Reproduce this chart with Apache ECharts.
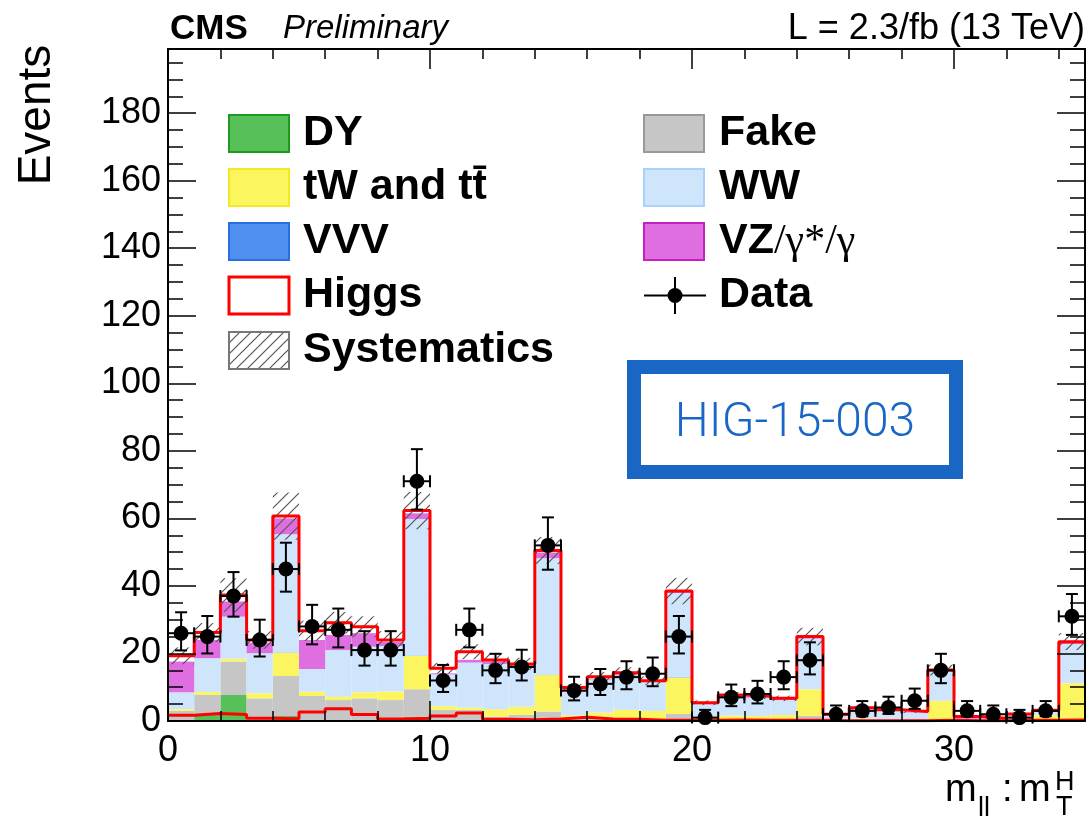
<!DOCTYPE html>
<html><head><meta charset="utf-8">
<script src="https://cdn.jsdelivr.net/npm/echarts@6/dist/echarts.min.js"></script>
<style>html,body{margin:0;padding:0;background:#fff}#c{width:1088px;height:817px}</style>
</head><body><div id="c"></div>
<script>
// ---- data (bins of width 1 from 0 to 35) ----
const binLow = [0,1,2,3,4,5,6,7,8,9,10,11,12,13,14,15,16,17,18,19,20,21,22,23,24,25,26,27,28,29,30,31,32,33,34];
const dy    = [0.3,1.8,7.7,0.3,1.5,0.2,0.2,0.3,0.8,1.3,0.1,0.1,0.1,0.1,0.3,0.1,0.2,0.1,0.1,0.5,0.1,0.0,0.0,0.1,0.3,0.0,0.0,0.0,0.0,0.1,0.0,0.0,0.0,0.1,0.1];
const fake  = [2.7,5.9,9.9,6.4,11.8,7.2,6.0,6.4,5.4,8.1,3.2,3.2,1.2,1.7,2.5,0.6,0.8,0.4,0.4,1.6,0.2,0.2,0.2,0.3,1.2,0.1,0.1,0.1,0.1,0.3,0.1,0.0,0.0,0.1,0.3];
const tw    = [0.5,0.9,0.8,1.5,6.9,1.3,1.0,1.8,2.5,9.9,1.1,0.7,2.2,2.4,10.8,1.0,1.5,2.8,2.5,10.8,0.9,1.4,1.3,1.4,7.9,0.3,0.6,0.3,0.2,5.6,0.2,0.1,0.3,1.5,10.8];
const vvv   = [0.0,0.0,0.0,0.0,0.1,0.0,0.0,0.0,0.0,0.1,0.0,0.0,0.0,0.0,0.1,0.0,0.0,0.0,0.0,0.1,0.0,0.0,0.0,0.0,0.0,0.0,0.0,0.0,0.0,0.0,0.0,0.0,0.0,0.0,0.0];
const ww    = [5.0,10.0,12.5,11.9,35.0,6.7,13.8,13.5,13.5,40.4,9.4,13.3,13.4,11.8,34.5,6.9,9.8,10.2,8.5,24.9,3.8,5.5,5.4,4.4,15.0,1.4,2.9,2.6,2.2,8.6,0.4,0.5,1.4,1.2,11.6];
const vz    = [9.1,5.4,4.5,3.1,4.7,8.6,4.5,4.0,1.2,1.7,0.3,0.8,0.7,0.5,1.7,0.2,0.2,0.3,0.2,0.4,0.2,0.3,0.3,0.3,0.4,0.1,0.2,0.2,0.2,0.3,0.5,0.1,0.2,0.1,0.4];
const higgs = [1.7,2.2,1.9,0.8,0.7,2.7,3.6,1.9,0.6,0.8,1.5,2.4,0.5,0.4,0.6,1.1,0.6,0.5,0.2,0.2,0.2,0.3,0.2,0.2,0.2,0.1,0.1,0.1,0.1,0.2,0.1,0.1,0.2,0.2,0.3];
const syst  = [2.5,2.8,5.0,2.6,7.0,3.0,3.2,3.1,2.6,5.5,1.6,2.2,1.9,1.8,4.0,1.1,1.4,1.6,1.3,3.9,0.7,0.9,0.9,0.8,2.6,0.4,0.5,0.4,0.4,1.6,0.3,0.2,0.3,0.4,2.5];
const dataVals = [26,25,37,24,45,28,27,21,21,71,12,27,15,16,52,9,11,13,14,25,1,7,8,13,18,2,3,4,6,15,3,2,1,3,31];
const errUp    = [6.2,6.1,7.1,6.0,7.8,6.4,6.3,5.6,5.6,9.5,4.6,6.3,4.9,5.1,8.3,4.1,4.4,4.7,4.8,6.1,2.3,3.8,3.9,4.7,5.3,2.6,2.9,3.2,3.6,4.9,2.9,2.6,2.3,2.9,6.6];
const errDown  = [5.1,5.0,6.1,4.9,6.7,5.3,5.2,4.6,4.6,8.4,3.4,5.2,3.8,4.0,7.2,2.9,3.3,3.6,3.7,5.0,0.8,2.6,2.8,3.6,4.2,1.3,1.6,1.9,2.4,3.8,1.6,1.3,0.8,1.6,5.5];

const FONT = '"Liberation Sans", Arial, Helvetica, sans-serif';
const colors = {DY:'#58c058', Fake:'#c6c6c6', tW:'#fbf660', VVV:'#4f8ff0', WW:'#cfe5fc', VZ:'#df6ee0'};
const borders = {DY:'#1f9a1f', Fake:'#999999', tW:'#f0ea20', VVV:'#2a6fe0', WW:'#a8d2fa', VZ:'#c420c4'};

// hatch pattern
const pc = document.createElement('canvas'); pc.width = 11; pc.height = 11;
(function(){const g = pc.getContext('2d'); g.strokeStyle = '#555'; g.lineWidth = 1.2;
 g.beginPath(); g.moveTo(0,11); g.lineTo(11,0); g.moveTo(-5.5,5.5); g.lineTo(5.5,-5.5); g.moveTo(5.5,16.5); g.lineTo(16.5,5.5); g.stroke();})();
const hatch = {image: pc, repeat: 'repeat'};

const comps = [['DY',dy],['Fake',fake],['tW',tw],['VVV',vvv],['WW',ww],['VZ',vz],['Higgs',higgs]];
const base = binLow.map(() => 0);
const series = [];
comps.forEach(([name, vals]) => {
  const rows = binLow.map((b,i) => { const r = [b, b+1, base[i], base[i]+vals[i]]; base[i] += vals[i]; return r; });
  if (name === 'Higgs') return;
  const col = colors[name];
  series.push({type:'custom', name, xAxisIndex:0, yAxisIndex:0, z:2, data: rows, encode:{x:[0,1], y:[2,3]},
    renderItem:(p, api) => {
      const a = api.coord([api.value(0), api.value(3)]);
      const b = api.coord([api.value(1), api.value(2)]);
      return {type:'rect', shape:{x:a[0], y:a[1], width:b[0]-a[0], height:b[1]-a[1]}, style:{fill:col}};
    }});
});
const total = base.slice();

series.push({type:'custom', name:'Systematics', z:3, data: binLow.map((b,i)=>[b, b+1, total[i]-syst[i], total[i]+syst[i]]), encode:{x:[0,1], y:[2,3]},
  renderItem:(p, api) => {
    const a = api.coord([api.value(0), api.value(3)]);
    const b = api.coord([api.value(1), api.value(2)]);
    return {type:'rect', shape:{x:a[0], y:a[1], width:b[0]-a[0], height:b[1]-a[1]}, style:{fill:hatch}};
  }});

const stepPts = arr => binLow.map((b,i)=>[b, arr[i]]).concat([[35, arr[arr.length-1]]]);
series.push({type:'line', name:'HiggsTop', step:'end', z:4, symbol:'none', data: stepPts(total), lineStyle:{color:'#ff0000', width:3}});
series.push({type:'line', name:'Higgs', step:'end', z:4, symbol:'none', data: stepPts(higgs), lineStyle:{color:'#ff0000', width:3}});

series.push({type:'custom', name:'Data', z:5, clip:false,
  data: binLow.map((b,i)=>[b+0.5, dataVals[i], errUp[i], errDown[i]]), encode:{x:0, y:1},
  renderItem:(p, api) => {
    const x = api.value(0), y = api.value(1), up = api.value(2), dn = api.value(3);
    const c = api.coord([x, y]);
    const t = api.coord([x, y+up]), bt = api.coord([x, Math.max(y-dn, 0)]);
    const l = api.coord([x-0.5, y]), r = api.coord([x+0.5, y]);
    const cap = 6, ls = {stroke:'#000', lineWidth:2};
    return {type:'group', children:[
      {type:'line', shape:{x1:c[0], y1:t[1], x2:c[0], y2:bt[1]}, style:ls},
      {type:'line', shape:{x1:c[0]-cap, y1:t[1], x2:c[0]+cap, y2:t[1]}, style:ls},
      {type:'line', shape:{x1:c[0]-cap, y1:bt[1], x2:c[0]+cap, y2:bt[1]}, style:ls},
      {type:'line', shape:{x1:l[0], y1:c[1], x2:r[0], y2:c[1]}, style:ls},
      {type:'line', shape:{x1:l[0], y1:c[1]-cap, x2:l[0], y2:c[1]+cap}, style:ls},
      {type:'line', shape:{x1:r[0], y1:c[1]-cap, x2:r[0], y2:c[1]+cap}, style:ls},
      {type:'circle', shape:{cx:c[0], cy:c[1], r:7.5}, style:{fill:'#000'}}
    ]};
  }});

function axLine(grid){ return {show: grid===0, onZero:false, lineStyle:{color:'#000', width:2}}; }
function xAx(grid, pos, interval, len, labels){
  return {type:'value', gridIndex:grid, position:pos, min:0, max:35, interval, z:10,
    axisLine: axLine(grid),
    axisTick:{show:true, inside:true, length:len, lineStyle:{color:'#000', width:1.5}},
    axisLabel:{show:labels, fontSize:36, color:'#000', fontFamily:FONT, margin:12, showMaxLabel:false},
    splitLine:{show:false}};
}
function yAx(grid, pos, interval, len, labels){
  return {type:'value', gridIndex:grid, position:pos, min:0, max:199, interval, z:10,
    axisLine: axLine(grid),
    axisTick:{show:true, inside:true, length:len, lineStyle:{color:'#000', width:1.5}},
    axisLabel:{show:labels, fontSize:36, color:'#000', fontFamily:FONT, margin:7, showMaxLabel:false},
    splitLine:{show:false}};
}

// legend graphics
const LX1 = 229, LX2 = 644, TX1 = 303, TX2 = 719, rowY = [115,169,223,277,332], BW = 60, BH = 37;
const legFont = 'bold 43px ' + FONT;
const g = [];
function box(x, y, fill, stroke, lw){ g.push({type:'rect', z:100, shape:{x, y, width:BW, height:BH}, style:{fill, stroke, lineWidth:lw||2}}); }
function txt(x, y, text, font, extra){ g.push({type:'text', z:100, x, y, style:Object.assign({text, font, fill:'#000', align:'left', verticalAlign:'middle'}, extra||{})}); }
box(LX1, rowY[0], colors.DY, borders.DY); txt(TX1, rowY[0]+BH/2, 'DY', legFont);
box(LX1, rowY[1], colors.tW, borders.tW); txt(TX1, rowY[1]+BH/2, 'tW and tt\u0304', legFont);
box(LX1, rowY[2], colors.VVV, borders.VVV); txt(TX1, rowY[2]+BH/2, 'VVV', legFont);
box(LX1, rowY[3], '#fff', '#ff0000', 3); txt(TX1, rowY[3]+BH/2, 'Higgs', legFont);
box(LX1, rowY[4], hatch, '#777', 2); txt(TX1, rowY[4]+BH/2, 'Systematics', legFont);
box(LX2, rowY[0], colors.Fake, borders.Fake); txt(TX2, rowY[0]+BH/2, 'Fake', legFont);
box(LX2, rowY[1], colors.WW, borders.WW); txt(TX2, rowY[1]+BH/2, 'WW', legFont);
box(LX2, rowY[2], colors.VZ, borders.VZ);
g.push({type:'text', z:100, x:TX2, y:rowY[2]+BH/2, style:{text:'{b|VZ}{n|/γ*/γ}', fill:'#000', align:'left', verticalAlign:'middle',
  rich:{b:{font:legFont, fill:'#000'}, n:{font:'42px "Liberation Serif", "Times New Roman", serif', fill:'#000'}}}});
g.push({type:'line', z:100, shape:{x1:LX2, y1:rowY[3]+BH/2, x2:LX2+BW+2, y2:rowY[3]+BH/2}, style:{stroke:'#000', lineWidth:2}});
g.push({type:'line', z:100, shape:{x1:LX2+31, y1:rowY[3], x2:LX2+31, y2:rowY[3]+BH}, style:{stroke:'#000', lineWidth:2}});
g.push({type:'circle', z:100, shape:{cx:LX2+31, cy:rowY[3]+BH/2, r:7.5}, style:{fill:'#000'}});
txt(TX2, rowY[3]+BH/2, 'Data', legFont);

// header
txt(170, 29, 'CMS', 'bold 35px ' + FONT);
txt(283, 29, 'Preliminary', 'italic 33px ' + FONT);
g.push({type:'text', z:100, x:1085, y:29, style:{text:'L = 2.3/fb (13 TeV)', font:'36px ' + FONT, fill:'#000', align:'right', verticalAlign:'middle'}});
// y title
g.push({type:'text', z:100, x:37, y:115, rotation:Math.PI/2, style:{text:'Events', font:'46px ' + FONT, fill:'#000', align:'center', verticalAlign:'middle'}});
// x title m_ll : m_T^H
txt(945, 791, 'm', '38px ' + FONT);
txt(978, 809, 'll', '27px ' + FONT);
txt(1002, 791, ':', '38px ' + FONT);
txt(1019, 791, 'm', '38px ' + FONT);
txt(1055, 783, 'H', '27px ' + FONT);
txt(1056, 808, 'T', '27px ' + FONT);
// stamp
g.push({type:'rect', z:100, shape:{x:634, y:367, width:322, height:105}, style:{fill:'#fff', stroke:'#1a66c4', lineWidth:14}});
g.push({type:'rect', z:100, shape:{x:629, y:362, width:332, height:115}, style:{fill:null, stroke:'rgba(26,102,196,0.45)', lineWidth:3, lineDash:[9,5]}});
g.push({type:'text', z:101, x:795, y:424, style:{text:'HIG-15-003', font:'300 48px Roboto, "Liberation Sans", sans-serif', fill:'#1a66c4', align:'center', verticalAlign:'middle'}});

const chart = echarts.init(document.getElementById('c'), null, {renderer:'canvas'});
chart.setOption({
  animation:false,
  backgroundColor:'#fff',
  grid:[{left:168, right:3, top:49, bottom:96}, {left:168, right:3, top:49, bottom:96}],
  xAxis:[xAx(0,'bottom',10,20,true), xAx(0,'top',10,20,false), xAx(1,'bottom',2,10,false), xAx(1,'top',2,10,false)],
  yAxis:[yAx(0,'left',20,28,true), yAx(0,'right',20,28,false), yAx(1,'left',5,15,false), yAx(1,'right',5,15,false)],
  series: series,
  graphic: g
});
</script></body></html>
